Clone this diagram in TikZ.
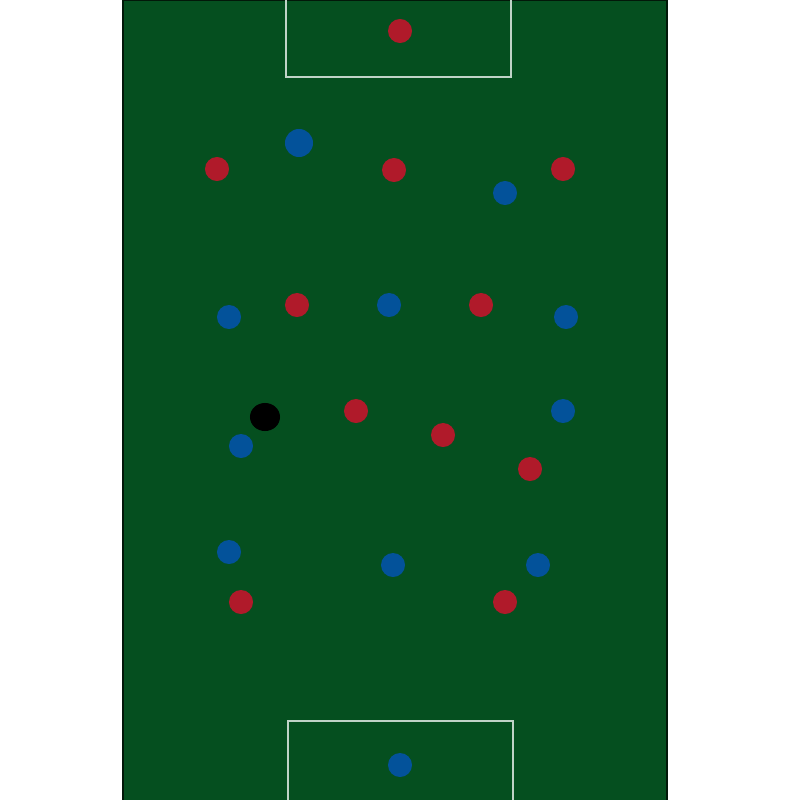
\documentclass[tikz,border=0pt]{standalone}
\usepackage{xcolor}
\usepackage{tikz}
\usetikzlibrary{shapes.geometric}
\definecolor{pitch}{HTML}{054F1F}
\definecolor{home}{HTML}{B01A2A}
\definecolor{away}{HTML}{03529A}
\tikzset{
  homeplayer/.style={circle, fill=home, inner sep=0pt, minimum size=0.24cm},
  awayplayer/.style={circle, fill=away, inner sep=0pt, minimum size=0.24cm},
  ball/.style={ellipse, fill=black, inner sep=0pt, minimum width=0.30cm, minimum height=0.28cm},
  pitchline/.style={draw=white!75!pitch, line width=0.6pt}
}

\begin{document}
\begin{tikzpicture}[x=0.01cm,y=-0.01cm]
  \useasboundingbox (0,0) rectangle (800,800);
  \fill[pitch] (123,0) rectangle (667,800);
  \draw[black!70!pitch, line width=0.5pt] (123,800) -- (123,0) -- (667,0) -- (667,800);

  \draw[pitchline] (286,0) -- (286,77) -- (511,77) -- (511,0);
  \draw[pitchline] (288,800) -- (288,721) -- (513,721) -- (513,800);

  % red side
  \foreach \n/\x/\y in {r1/400/31, r2/217/169, r3/394/170, r4/563/169, r5/297/305, r6/481/305,
                        r7/356/411, r8/443/435, r9/530/469, r10/241/602, r11/505/602}
    {\node[homeplayer] (\n) at (\x,\y) {};}

  % blue side
  \foreach \n/\x/\y in {b2/505/193, b3/229/317, b4/389/305, b5/566/317, b6/563/411,
                        b7/241/446, b8/229/552, b9/393/565, b10/538/565, b11/400/765}
    {\node[awayplayer] (\n) at (\x,\y) {};}
  \node[awayplayer, minimum size=0.28cm] (b1) at (299,143) {};

  \node[ball] (ball) at (265,417) {};
\end{tikzpicture}
\end{document}
